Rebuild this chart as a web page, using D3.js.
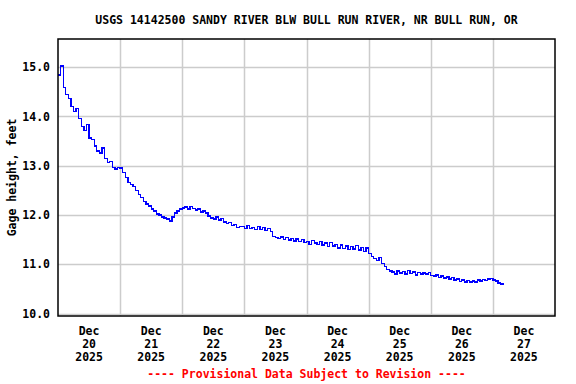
<!DOCTYPE html>
<html>
<head>
<meta charset="utf-8">
<script src="https://cdn.jsdelivr.net/npm/d3@7"></script>
<style>
  html, body { margin: 0; padding: 0; background: #fff; }
  svg { display: block; }
  text { font-family: "DejaVu Sans Mono", "Liberation Mono", monospace; font-weight: bold; }
</style>
</head>
<body>
<div id="chart"></div>
<script>
// gage height, feet, hourly readings starting Dec 20 2025 00:00
const dec20 = [14.84, 15.02, 14.58, 14.45, 14.36, 14.20, 14.10, 14.16, 13.95, 13.80, 13.72, 13.84,
               13.56, 13.53, 13.40, 13.30, 13.26, 13.36, 13.14, 13.06, 13.08, 12.96, 12.93, 12.96];
const dec21 = [12.95, 12.86, 12.76, 12.66, 12.62, 12.58, 12.50, 12.42, 12.35, 12.28, 12.22, 12.18,
               12.12, 12.08, 12.02, 12.00, 11.96, 11.94, 11.92, 11.88, 11.96, 12.04, 12.08, 12.12];
const dec22 = [12.14, 12.16, 12.12, 12.17, 12.13, 12.10, 12.12, 12.06, 12.08, 12.04, 11.98, 11.94,
               11.92, 11.96, 11.90, 11.93, 11.86, 11.82, 11.84, 11.78, 11.80, 11.74, 11.77, 11.76];
const dec23 = [11.72, 11.78, 11.72, 11.75, 11.70, 11.76, 11.71, 11.74, 11.68, 11.72, 11.66, 11.56,
               11.54, 11.52, 11.55, 11.50, 11.54, 11.49, 11.52, 11.47, 11.51, 11.46, 11.50, 11.44];
const dec24 = [11.46, 11.40, 11.48, 11.43, 11.40, 11.46, 11.39, 11.43, 11.36, 11.44, 11.37, 11.40,
               11.33, 11.39, 11.32, 11.37, 11.30, 11.36, 11.31, 11.38, 11.29, 11.34, 11.26, 11.33];
const dec25 = [11.22, 11.16, 11.12, 11.08, 11.14, 11.02, 10.96, 10.90, 10.86, 10.84, 10.80, 10.86,
               10.82, 10.85, 10.80, 10.88, 10.81, 10.84, 10.78, 10.83, 10.80, 10.82, 10.80, 10.83];
const dec26 = [10.77, 10.76, 10.78, 10.73, 10.76, 10.72, 10.74, 10.70, 10.73, 10.68, 10.70, 10.65,
               10.68, 10.64, 10.67, 10.64, 10.66, 10.64, 10.68, 10.66, 10.69, 10.67, 10.70, 10.71];
const dec27 = [10.68, 10.66, 10.62, 10.60, 10.58];

const yTicks = [10, 11, 12, 13, 14, 15];
const dayTicks = ['2025-12-20', '2025-12-21', '2025-12-22', '2025-12-23',
                  '2025-12-24', '2025-12-25', '2025-12-26', '2025-12-27'];
const title = 'USGS 14142500 SANDY RIVER BLW BULL RUN RIVER, NR BULL RUN, OR';
const yLabel = 'Gage height, feet';
const footer = '---- Provisional Data Subject to Revision ----';

const W = 576, H = 384;
const margin = {top: 39, right: 21, bottom: 68, left: 58};
const iw = W - margin.left - margin.right;
const ih = H - margin.top - margin.bottom;

const parse = d3.timeParse('%Y-%m-%d');
const start = parse(dayTicks[0]);
const readings = [].concat(dec20, dec21, dec22, dec23, dec24, dec25, dec26, dec27);
const series = readings.map((v, i) => ({t: d3.timeHour.offset(start, i), v: v}));

const x = d3.scaleTime()
    .domain([start, d3.timeDay.offset(start, 8)])
    .range([0, iw]);
const y = d3.scaleLinear()
    .domain([9.95, 15.57])
    .range([ih, 0]);

const svg = d3.select('#chart').append('svg')
    .attr('width', W)
    .attr('height', H);

svg.append('text')
    .attr('x', margin.left + iw / 2)
    .attr('y', 24)
    .attr('text-anchor', 'middle')
    .attr('font-size', 11.5)
    .attr('fill', '#000')
    .text(title);

const g = svg.append('g').attr('transform', `translate(${margin.left},${margin.top})`);

// grid
g.append('g').selectAll('line.h')
    .data(yTicks)
    .enter().append('line')
    .attr('x1', 0).attr('x2', iw)
    .attr('y1', d => Math.round(y(d)) + 0.5)
    .attr('y2', d => Math.round(y(d)) + 0.5)
    .attr('stroke', '#cccccc')
    .attr('stroke-width', 1.5);

const dayDates = dayTicks.map(parse);
g.append('g').selectAll('line.v')
    .data(dayDates.slice(1))
    .enter().append('line')
    .attr('y1', 0).attr('y2', ih)
    .attr('x1', d => Math.round(x(d)) + 0.5)
    .attr('x2', d => Math.round(x(d)) + 0.5)
    .attr('stroke', '#cccccc')
    .attr('stroke-width', 1.5);

// data line, stepped like the 0.01 ft gage record
const line = d3.line()
    .curve(d3.curveStepAfter)
    .x(d => x(d.t))
    .y(d => y(d.v));
g.append('path')
    .datum(series)
    .attr('d', line)
    .attr('fill', 'none')
    .attr('stroke', '#0000ff')
    .attr('stroke-width', 1.3)
    .attr('shape-rendering', 'crispEdges');

// frame
g.append('rect')
    .attr('x', 0).attr('y', 0)
    .attr('width', iw).attr('height', ih)
    .attr('fill', 'none')
    .attr('stroke', '#000')
    .attr('stroke-width', 1.5);

// y axis labels
const yAxis = d3.axisLeft(y).tickValues(yTicks).tickSize(0).tickPadding(8)
    .tickFormat(d3.format('.1f'));
const ya = g.append('g').call(yAxis);
ya.select('.domain').remove();
ya.selectAll('text')
    .attr('font-size', 11.5)
    .attr('font-family', null)
    .attr('fill', '#000');

// x axis labels, centred at noon of each day
const fmt = [d3.timeFormat('%b'), d3.timeFormat('%-d'), d3.timeFormat('%Y')];
const xl = g.append('g').selectAll('text')
    .data(dayDates)
    .enter().append('text')
    .attr('x', d => x(d3.timeHour.offset(d, 12)))
    .attr('y', ih + 19)
    .attr('text-anchor', 'middle')
    .attr('font-size', 11.5)
    .attr('fill', '#000');
fmt.forEach((f, i) => {
    xl.append('tspan')
        .attr('x', d => x(d3.timeHour.offset(d, 12)))
        .attr('dy', i === 0 ? 0 : 13)
        .text(d => f(d));
});

svg.append('text')
    .attr('transform', `translate(16,${margin.top + ih / 2}) rotate(-90)`)
    .attr('text-anchor', 'middle')
    .attr('font-size', 11.5)
    .attr('fill', '#000')
    .text(yLabel);

svg.append('text')
    .attr('x', margin.left + iw / 2)
    .attr('y', 378)
    .attr('text-anchor', 'middle')
    .attr('font-size', 11.5)
    .attr('fill', '#ff0000')
    .text(footer);
</script>
</body>
</html>
